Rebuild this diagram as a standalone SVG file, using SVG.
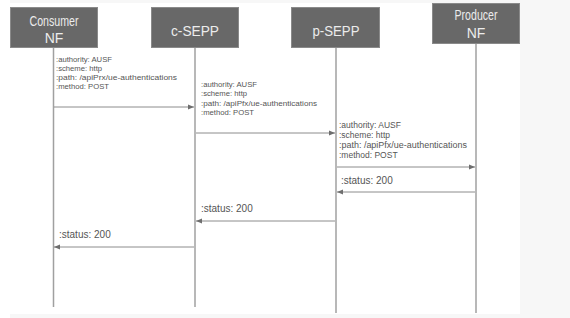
<svg xmlns="http://www.w3.org/2000/svg" width="570" height="318" viewBox="0 0 570 318">
<defs>
<style>
.box{fill:#686868;stroke:#8a8a8a;stroke-width:1}
.lbl{font-family:"Liberation Sans",Arial,sans-serif;font-size:14px;fill:#ececec;text-anchor:middle}
.life{stroke:#a0a0a0;stroke-width:1.5;fill:none}
.msg{stroke:#8c8c8c;stroke-width:1;fill:none}
.t{font-family:"Liberation Sans",Arial,sans-serif;font-size:7.7px;fill:#555}
.t3{font-family:"Liberation Sans",Arial,sans-serif;font-size:8.5px;fill:#555}
.s{font-family:"Liberation Sans",Arial,sans-serif;font-size:10px;fill:#555}
</style>
<marker id="ah" viewBox="0 0 10 10" refX="10" refY="5" markerWidth="6" markerHeight="6" orient="auto" markerUnits="userSpaceOnUse">
<path d="M0,1 L10,5 L0,9 z" fill="#6e6e6e"/>
</marker>
</defs>
<rect x="0" y="0" width="570" height="318" fill="#ffffff"/>
<rect x="10" y="0" width="560" height="3" fill="#f7f7f7"/>
<rect x="10" y="314" width="560" height="4" fill="#f7f7f7"/>
<rect x="520" y="0" width="50" height="318" fill="#f7f7f7"/>

<g id="lifelines">
<line class="life" x1="53.5" y1="48" x2="53.5" y2="307"/>
<line class="life" x1="195" y1="48" x2="195" y2="307"/>
<line class="life" x1="336" y1="48" x2="336" y2="313"/>
<line class="life" x1="476" y1="43" x2="476" y2="313"/>
</g>

<g id="consumer-nf">
<rect class="box" x="10.5" y="7.5" width="87" height="40"/>
<text class="lbl" x="54" y="26" textLength="49" lengthAdjust="spacingAndGlyphs">Consumer</text>
<text class="lbl" x="54" y="43">NF</text>
</g>
<g id="c-sepp">
<rect class="box" x="151.5" y="7.5" width="87" height="40"/>
<text class="lbl" x="195" y="36" textLength="48" lengthAdjust="spacingAndGlyphs">c-SEPP</text>
</g>
<g id="p-sepp">
<rect class="box" x="291.5" y="7.5" width="88" height="40"/>
<text class="lbl" x="336" y="36" textLength="47" lengthAdjust="spacingAndGlyphs">p-SEPP</text>
</g>
<g id="producer-nf">
<rect class="box" x="432.5" y="3.5" width="87" height="40"/>
<text class="lbl" x="476" y="20" textLength="43" lengthAdjust="spacingAndGlyphs">Producer</text>
<text class="lbl" x="476" y="38">NF</text>
</g>

<g id="connectors">
<line class="msg" x1="54" y1="107" x2="194" y2="107" marker-end="url(#ah)"/>
<line class="msg" x1="196" y1="133" x2="335" y2="133" marker-end="url(#ah)"/>
<line class="msg" x1="337" y1="167" x2="475" y2="167" marker-end="url(#ah)"/>
<line class="msg" x1="475" y1="192" x2="337" y2="192" marker-end="url(#ah)"/>
<line class="msg" x1="335" y1="221" x2="196" y2="221" marker-end="url(#ah)"/>
<line class="msg" x1="194" y1="247" x2="54" y2="247" marker-end="url(#ah)"/>
</g>

<g id="labels">
<text class="t" x="56" y="62">:authority: AUSF</text>
<text class="t" x="56" y="71">:scheme: http</text>
<text class="t" x="56" y="80" textLength="121" lengthAdjust="spacingAndGlyphs">:path: /apiPrx/ue-authentications</text>
<text class="t" x="56" y="89">:method: POST</text>

<text class="t" x="201" y="87">:authority: AUSF</text>
<text class="t" x="201" y="96.3">:scheme: http</text>
<text class="t" x="201" y="105.6" textLength="116" lengthAdjust="spacingAndGlyphs">:path: /apiPfx/ue-authentications</text>
<text class="t" x="201" y="115">:method: POST</text>

<text class="t3" x="339" y="128">:authority: AUSF</text>
<text class="t3" x="339" y="138">:scheme: http</text>
<text class="t3" x="339" y="148" textLength="128" lengthAdjust="spacingAndGlyphs">:path: /apiPfx/ue-authentications</text>
<text class="t3" x="339" y="158">:method: POST</text>

<text class="s" x="341" y="184">:status: 200</text>
<text class="s" x="201" y="212">:status: 200</text>
<text class="s" x="59" y="238">:status: 200</text>
</g>
</svg>
